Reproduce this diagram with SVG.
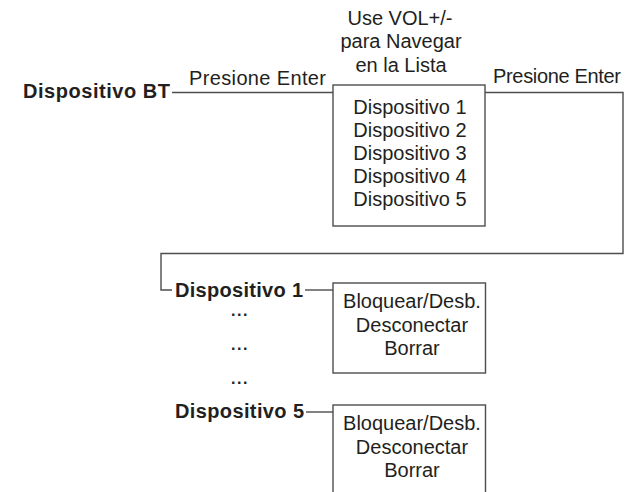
<svg xmlns="http://www.w3.org/2000/svg" width="637" height="492" viewBox="0 0 637 492">
<style>
  text { font-family: "Liberation Sans", Arial, sans-serif; font-size: 20px; fill: #231f20; }
  .b { font-weight: bold; }
  .c { text-anchor: middle; }
  .dots { font-size: 16px; letter-spacing: 1.5px; }
  .ln { fill: none; stroke: #4d4d4d; stroke-width: 1.4; }
  .box { fill: #ffffff; stroke: #4d4d4d; stroke-width: 1.4; }
</style>
<rect width="637" height="492" fill="#ffffff"/>
<g id="connectors">
  <line class="ln" x1="172" y1="92.5" x2="333" y2="92.5"/>
  <path class="ln" d="M485,92.5 H623 V253.5 H161 V290 H172"/>
  <line class="ln" x1="305" y1="290" x2="333" y2="290"/>
  <line class="ln" x1="306" y1="412" x2="333" y2="412"/>
  <text x="189" y="85" textLength="137">Presione Enter</text>
  <text x="493" y="83" textLength="128">Presione Enter</text>
</g>
<g id="node-bt">
  <text class="b" x="23" y="98" textLength="147">Dispositivo BT</text>
</g>
<g id="node-list">
  <text class="c" x="400" y="25">Use VOL+/-</text>
  <text class="c" x="401" y="48">para Navegar</text>
  <text class="c" x="401" y="72">en la Lista</text>
  <rect class="box" x="333" y="85" width="152" height="141"/>
  <text class="c" x="410" y="114">Dispositivo 1</text>
  <text class="c" x="410" y="137">Dispositivo 2</text>
  <text class="c" x="410" y="160">Dispositivo 3</text>
  <text class="c" x="410" y="183">Dispositivo 4</text>
  <text class="c" x="410" y="206">Dispositivo 5</text>
</g>
<g id="node-dev1">
  <text class="b" x="175" y="297" textLength="128">Dispositivo 1</text>
</g>
<g id="node-dots">
  <text class="b dots" x="231" y="316">...</text>
  <text class="b dots" x="231" y="350">...</text>
  <text class="b dots" x="231" y="384">...</text>
</g>
<g id="node-menu1">
  <rect class="box" x="333" y="283" width="152.5" height="90"/>
  <text class="c" x="412" y="308">Bloquear/Desb.</text>
  <text class="c" x="412" y="331.5">Desconectar</text>
  <text class="c" x="412" y="355">Borrar</text>
</g>
<g id="node-dev5">
  <text class="b" x="175" y="418" textLength="129">Dispositivo 5</text>
</g>
<g id="node-menu5">
  <rect class="box" x="333" y="405" width="152.5" height="100"/>
  <text class="c" x="412" y="430">Bloquear/Desb.</text>
  <text class="c" x="412" y="453.5">Desconectar</text>
  <text class="c" x="412" y="477">Borrar</text>
</g>
</svg>
